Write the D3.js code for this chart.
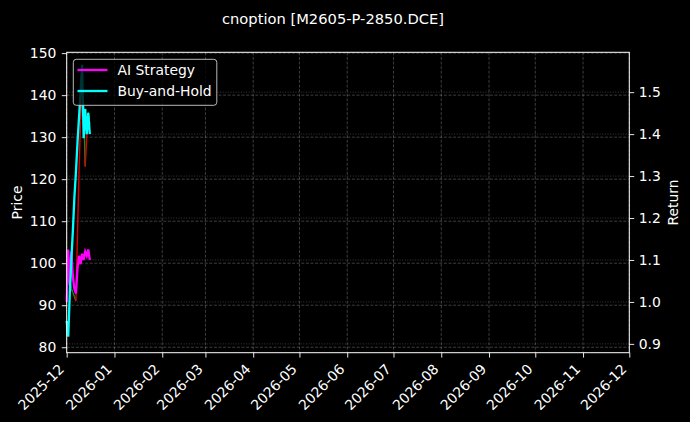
<!DOCTYPE html>
<html>
<head>
<meta charset="utf-8">
<script src="https://cdn.jsdelivr.net/npm/d3@7"></script>
<style>
  body { margin: 0; background: #000; }
  text { font-family: "DejaVu Sans", sans-serif; }
</style>
</head>
<body>
<div id="chart"></div>
<script>
// data
const dates = ['2025-12-01', '2025-12-02', '2025-12-03', '2025-12-04', '2025-12-05', '2025-12-06',
  '2025-12-07', '2025-12-08', '2025-12-09', '2025-12-10', '2025-12-11', '2025-12-12',
  '2025-12-13', '2025-12-14', '2025-12-15', '2025-12-16'];
const price = [95, 98, 96, 94, 93, 92, 91, 107, 122, 134, 141, 138, 123, 130, 136, 133];
const aiStrategy = [1.00, 1.125, 1.04, 1.12, 1.06, 1.03, 1.02, 1.08, 1.11, 1.09, 1.115, 1.10, 1.12, 1.11, 1.125, 1.10];
const buyHold = [0.955, 0.917, 1.02, 1.10, 1.17, 1.25, 1.31, 1.38, 1.44, 1.50, 1.565, 1.39, 1.46, 1.40, 1.45, 1.40];

const priceTicks = [80, 90, 100, 110, 120, 130, 140, 150];
const returnTicks = [0.9, 1.0, 1.1, 1.2, 1.3, 1.4, 1.5];
const monthTicks = ['2025-12', '2026-01', '2026-02', '2026-03', '2026-04', '2026-05', '2026-06',
  '2026-07', '2026-08', '2026-09', '2026-10', '2026-11', '2026-12'];

(function() {
  const width = 690, height = 422;
  const plotLeft = 66.7, plotRight = 629.3, plotTop = 52.3, plotBottom = 352.7;
  const fontSize = 13.9;
  const tickLen = 4.9;

  const parseDay = d3.timeParse('%Y-%m-%d');
  const parseMonth = d3.timeParse('%Y-%m');
  const days = dates.map(parseDay);
  const months = monthTicks.map(parseMonth);

  const x = d3.scaleTime()
    .domain([months[0], months[months.length - 1]])
    .range([plotLeft, plotRight]);
  const yPrice = d3.scaleLinear().domain([78.7, 150.2]).range([plotBottom, plotTop]);
  const yReturn = d3.scaleLinear().domain([0.879, 1.595]).range([plotBottom, plotTop]);

  const svg = d3.select('#chart').append('svg')
      .attr('width', width)
      .attr('height', height)
      .style('background', '#000');

  // grids
  svg.append('g')
    .selectAll('line')
    .data(returnTicks)
    .enter().append('line')
      .attr('x1', plotLeft).attr('x2', plotRight)
      .attr('y1', d => yReturn(d)).attr('y2', d => yReturn(d))
      .attr('stroke', '#fff').attr('stroke-opacity', 0.28)
      .attr('stroke-width', 0.8).attr('stroke-dasharray', '1,1.6');

  svg.append('g')
    .selectAll('line')
    .data(priceTicks)
    .enter().append('line')
      .attr('x1', plotLeft).attr('x2', plotRight)
      .attr('y1', d => yPrice(d)).attr('y2', d => yPrice(d))
      .attr('stroke', '#fff').attr('stroke-opacity', 0.3)
      .attr('stroke-width', 0.8).attr('stroke-dasharray', '3,1.6');

  svg.append('g')
    .selectAll('line')
    .data(months)
    .enter().append('line')
      .attr('x1', d => x(d)).attr('x2', d => x(d))
      .attr('y1', plotTop).attr('y2', plotBottom)
      .attr('stroke', '#fff').attr('stroke-opacity', 0.3)
      .attr('stroke-width', 0.8).attr('stroke-dasharray', '3,1.6');

  // price line, red when rising, green when falling
  const segs = d3.pairs(days.map((d, i) => ({date: d, value: price[i]})));
  svg.append('g')
    .selectAll('line')
    .data(segs)
    .enter().append('line')
      .attr('x1', d => x(d[0].date)).attr('y1', d => yPrice(d[0].value))
      .attr('x2', d => x(d[1].date)).attr('y2', d => yPrice(d[1].value))
      .attr('stroke', d => d[1].value >= d[0].value ? '#e00000' : '#1f8a1f')
      .attr('stroke-width', 1.4);

  // return lines
  const returnLine = d3.line()
    .x((d, i) => x(days[i]))
    .y(d => yReturn(d));

  svg.append('path')
      .datum(aiStrategy)
      .attr('d', returnLine)
      .attr('fill', 'none')
      .attr('stroke', '#ff00ff')
      .attr('stroke-width', 2.3);

  svg.append('path')
      .datum(buyHold)
      .attr('d', returnLine)
      .attr('fill', 'none')
      .attr('stroke', '#00ffff')
      .attr('stroke-width', 2.3);

  // axes
  function styleAxis(g) {
    g.attr('font-size', fontSize).attr('font-family', 'DejaVu Sans');
    g.select('.domain').remove();
    g.selectAll('.tick line').attr('stroke', '#fff').attr('stroke-width', 0.9);
    g.selectAll('.tick text').attr('fill', '#fff').style('font-size', fontSize + 'px');
  }

  svg.append('g')
      .attr('transform', `translate(${plotLeft},0)`)
      .call(d3.axisLeft(yPrice).tickValues(priceTicks).tickSize(tickLen).tickPadding(5.5))
      .call(styleAxis);

  svg.append('g')
      .attr('transform', `translate(${plotRight},0)`)
      .call(d3.axisRight(yReturn).tickValues(returnTicks).tickSize(tickLen).tickPadding(4.5)
        .tickFormat(d3.format('.1f')))
      .call(styleAxis);

  const xAxis = svg.append('g')
      .attr('transform', `translate(0,${plotBottom})`)
      .call(d3.axisBottom(x).tickValues(months).tickSize(tickLen).tickFormat(d3.timeFormat('%Y-%m')))
      .call(styleAxis);

  xAxis.selectAll('.tick text')
      .attr('y', 0)
      .attr('dy', 0)
      .attr('text-anchor', 'end')
      .attr('transform', 'translate(-2.2,17.2) rotate(-45)');

  // frame
  svg.append('rect')
      .attr('x', plotLeft).attr('y', plotTop)
      .attr('width', plotRight - plotLeft).attr('height', plotBottom - plotTop)
      .attr('fill', 'none').attr('stroke', '#fff').attr('stroke-width', 1);

  // labels
  svg.append('text')
      .attr('x', 333).attr('y', 24)
      .attr('text-anchor', 'middle')
      .attr('fill', '#fff')
      .style('font-size', '14.7px')
      .text('cnoption [M2605-P-2850.DCE]');

  svg.append('text')
      .attr('transform', `translate(22.3,${(plotTop + plotBottom) / 2}) rotate(-90)`)
      .attr('text-anchor', 'middle')
      .attr('fill', '#fff')
      .style('font-size', fontSize + 'px')
      .text('Price');

  svg.append('text')
      .attr('transform', `translate(678.3,${(plotTop + plotBottom) / 2}) rotate(-90)`)
      .attr('text-anchor', 'middle')
      .attr('fill', '#fff')
      .style('font-size', fontSize + 'px')
      .text('Return');

  // legend
  const legendItems = [
    {name: 'AI Strategy', color: '#ff00ff'},
    {name: 'Buy-and-Hold', color: '#00ffff'}
  ];
  const legend = svg.append('g');
  legend.append('rect')
      .attr('x', 73.3).attr('y', 59.3)
      .attr('width', 143.5).attr('height', 46)
      .attr('rx', 3)
      .attr('fill', '#000').attr('fill-opacity', 0.8)
      .attr('stroke', '#cccccc').attr('stroke-width', 0.9);

  const item = legend.selectAll('g.item')
    .data(legendItems)
    .enter().append('g')
      .attr('class', 'item')
      .attr('transform', (d, i) => `translate(0,${70 + i * 21})`);

  item.append('line')
      .attr('x1', 77.5).attr('x2', 107.5)
      .attr('stroke', d => d.color)
      .attr('stroke-width', 2.3);

  item.append('text')
      .attr('x', 117.5).attr('y', 5)
      .attr('fill', '#fff')
      .style('font-size', fontSize + 'px')
      .text(d => d.name);
})();
</script>
</body>
</html>
